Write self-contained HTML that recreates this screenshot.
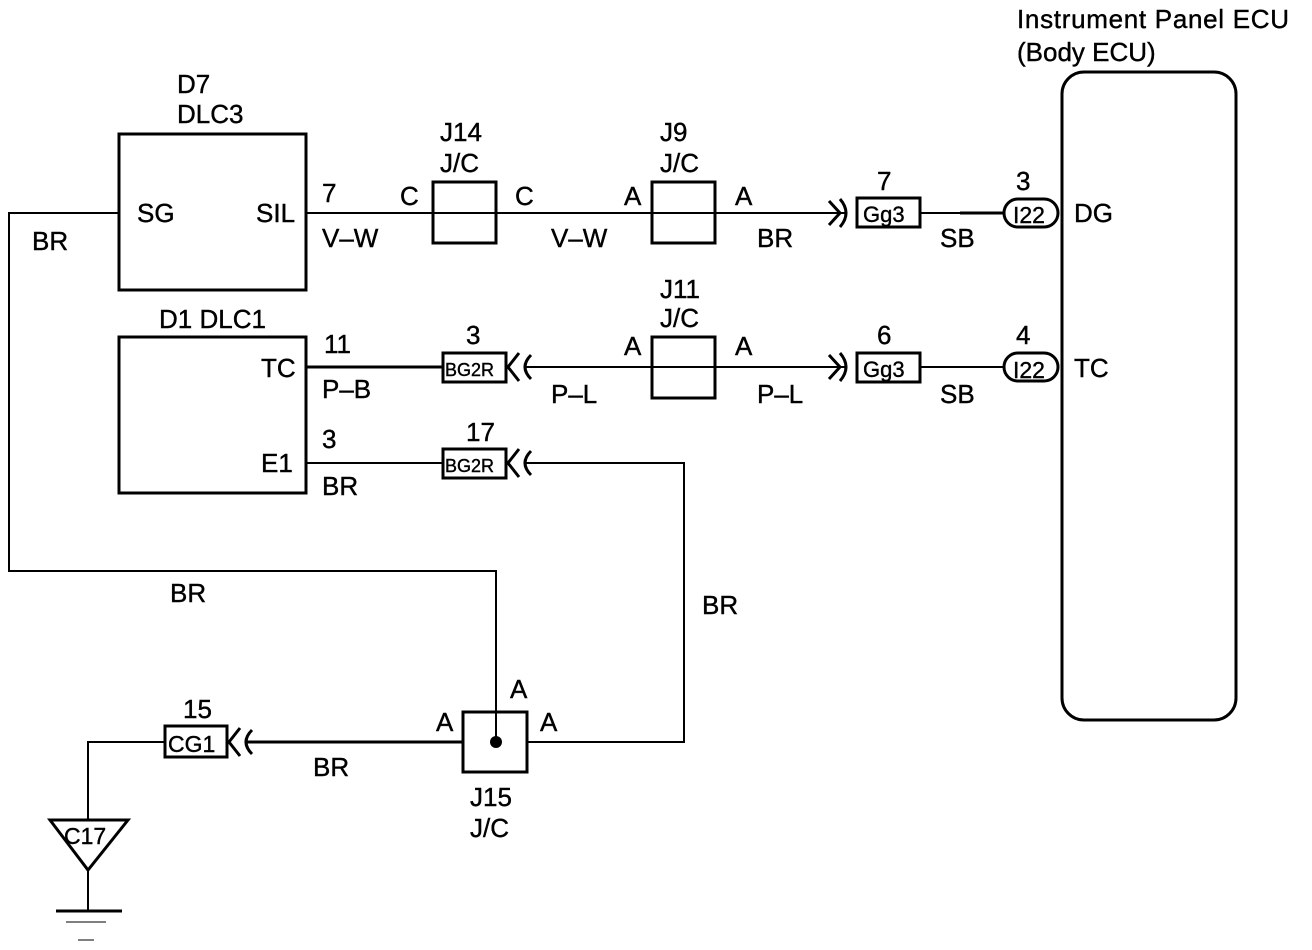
<!DOCTYPE html>
<html><head><meta charset="utf-8"><style>
html,body{margin:0;padding:0;background:#fff;}
svg{display:block;}
text{font-family:"Liberation Sans",Arial,sans-serif;font-size:26px;fill:#000;stroke:#000;stroke-width:0.4px;}
.s{font-size:18px;}
</style></head><body>
<svg width="1312" height="950" viewBox="0 0 1312 950" xmlns="http://www.w3.org/2000/svg">
<g fill="none" stroke="#000" stroke-width="2">
<rect x="119" y="134" width="187" height="156" stroke-width="3"/>
<rect x="119" y="337" width="187" height="156" stroke-width="3"/>
<rect x="1062" y="72" width="174" height="648" rx="22" stroke-width="3"/>
<rect x="433" y="182" width="63" height="61" stroke-width="3"/>
<rect x="652" y="182" width="63" height="61" stroke-width="3"/>
<rect x="652" y="337" width="63" height="61" stroke-width="3"/>
<rect x="463" y="712" width="64" height="60" stroke-width="3"/>
<polyline points="119,213 9,213 9,571 496,571 496,742"/>
<line x1="306" y1="213" x2="845" y2="213"/>
<line x1="920" y1="213" x2="1005" y2="213"/>
<line x1="960" y1="213" x2="1005" y2="213" stroke-width="3"/>
<line x1="306" y1="367" x2="443" y2="367" stroke-width="3"/>
<line x1="525" y1="367" x2="845" y2="367"/>
<line x1="920" y1="367" x2="1005" y2="367"/>
<line x1="306" y1="463" x2="443" y2="463"/>
<polyline points="525,463 684,463 684,742 527,742"/>
<line x1="245" y1="742" x2="463" y2="742" stroke-width="3"/>
<polyline points="165,742 88,742 88,820"/>
<line x1="88" y1="870" x2="88" y2="911"/>
<line x1="56" y1="911" x2="122" y2="911" stroke-width="3"/>
<line x1="66" y1="922" x2="106" y2="922" stroke-width="1"/>
<line x1="78" y1="940" x2="94" y2="940" stroke-width="1"/>
<rect x="857" y="198" width="63" height="29" stroke-width="3"/>
<rect x="857" y="353" width="63" height="29" stroke-width="3"/>
<path d="M829,201 L840,213 L829,225 M840,199 Q852,213 840,227" stroke-width="3"/>
<path d="M829,355 L840,367 L829,379 M840,353 Q852,367 840,381" stroke-width="3"/>
<rect x="1004" y="199" width="54" height="28" rx="14" stroke-width="3"/>
<rect x="1004" y="353" width="54" height="28" rx="14" stroke-width="3"/>
<rect x="443" y="353" width="63" height="29" stroke-width="3"/>
<rect x="443" y="449" width="63" height="29" stroke-width="3"/>
<path d="M519,353 L508,367 L519,381 M531,355 Q519,367 531,379" stroke-width="3"/>
<path d="M519,449 L508,463 L519,477 M531,451 Q519,463 531,475" stroke-width="3"/>
<rect x="165" y="726" width="62" height="31" stroke-width="3"/>
<path d="M240,728 L229,742 L240,756 M252,730 Q240,742 252,754" stroke-width="3"/>
<polygon points="50,820 128,820 88,870" stroke-width="3"/>
</g>
<circle cx="496" cy="742" r="6" fill="#000"/>
<text x="1017" y="28" textLength="272">Instrument Panel ECU</text>
<text x="1017" y="61">(Body ECU)</text>
<text x="177" y="93">D7</text>
<text x="177" y="123">DLC3</text>
<text x="159" y="328">D1 DLC1</text>
<text x="137" y="222">SG</text>
<text x="256" y="222">SIL</text>
<text x="261" y="377">TC</text>
<text x="261" y="472">E1</text>
<text x="32" y="250">BR</text>
<text x="322" y="202">7</text>
<text x="322" y="247">V–W</text>
<text x="400" y="205">C</text>
<text x="515" y="205">C</text>
<text x="440" y="141">J14</text>
<text x="440" y="172">J/C</text>
<text x="551" y="247">V–W</text>
<text x="624" y="205">A</text>
<text x="735" y="205">A</text>
<text x="660" y="141">J9</text>
<text x="660" y="172">J/C</text>
<text x="757" y="247">BR</text>
<text x="877" y="190">7</text>
<text x="863" y="222" style="font-size:22px">Gg3</text>
<text x="940" y="247">SB</text>
<text x="1016" y="190">3</text>
<text x="1013" y="223" style="font-size:23px">I22</text>
<text x="1074" y="222">DG</text>
<text x="324" y="353">11</text>
<text x="322" y="398">P–B</text>
<text x="466" y="344">3</text>
<text x="445" y="376" class="s">BG2R</text>
<text x="551" y="403">P–L</text>
<text x="624" y="355">A</text>
<text x="735" y="355">A</text>
<text x="660" y="298">J11</text>
<text x="660" y="327">J/C</text>
<text x="757" y="403">P–L</text>
<text x="877" y="344">6</text>
<text x="863" y="377" style="font-size:22px">Gg3</text>
<text x="940" y="403">SB</text>
<text x="1016" y="344">4</text>
<text x="1013" y="378" style="font-size:23px">I22</text>
<text x="1074" y="377">TC</text>
<text x="322" y="448">3</text>
<text x="322" y="495">BR</text>
<text x="466" y="441">17</text>
<text x="445" y="472" class="s">BG2R</text>
<text x="170" y="602">BR</text>
<text x="702" y="614">BR</text>
<text x="510" y="698">A</text>
<text x="436" y="731">A</text>
<text x="540" y="731">A</text>
<text x="470" y="806">J15</text>
<text x="470" y="837">J/C</text>
<text x="313" y="776">BR</text>
<text x="183" y="718">15</text>
<text x="168" y="752" style="font-size:23px">CG1</text>
<text x="64" y="844" style="font-size:23px">C17</text>
</svg>
</body></html>
